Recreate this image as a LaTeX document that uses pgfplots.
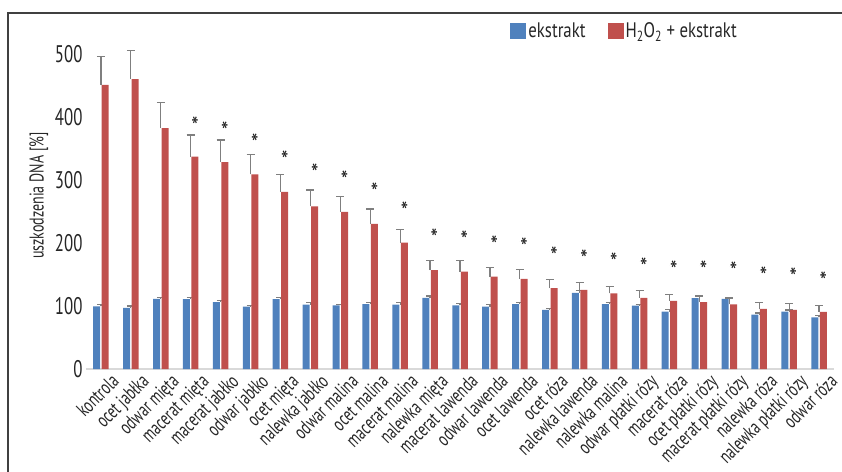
\documentclass[border=0pt]{standalone}
\usepackage{pgfplots}
\usepackage{pgfplotstable}
\pgfplotsset{compat=1.18}
\usepackage{fontspec}
\setmainfont{PT Sans}[FakeStretch=0.8]
\newfontfamily\narrowfont{PT Sans}[FakeStretch=0.7]

\definecolor{exblue}{HTML}{4F81BD}
\definecolor{exred}{HTML}{C0504D}
\definecolor{errgray}{HTML}{7F7F7F}
\definecolor{basegray}{HTML}{D9D9D9}

% x: sample index, b/be: extract alone (mean, SD), r/re: H2O2 + extract (mean, SD)
\pgfplotstableread{
x  b      be   r      re
0  99.5   2.5  451    45
1  97     3    460    46
2  111.5  2    382.5  40
3  111    2    337    34.5
4  106    3    328.5  35
5  99     2    309    31
6  111    2    281    27.5
7  102    3    258    26
8  101    2    249.5  24.5
9  103    3    230.5  23.5
10 102    3    200.5  20.5
11 113    3    157    15.5
12 101    2.5  154.5  17.5
13 99     3    146.5  14.5
14 103    2.5  143    15
15 94     2.5  128.5  13.5
16 121    3    125.5  12
17 103    2.5  120    11.5
18 100.5  2.5  113    12
19 91     3    108    10
20 112.5  2.5  106    10.5
21 111.5  2    102.5  10
22 86.5   2.5  95.5   10
23 91     2.5  94     10
24 82     3    90.5   10
}\damage

% significance marks (x, height of the asterisk)
\pgfplotstableread{
x  s
3  394
4  386
5  367
6  339
7  318
8  308
9  289
10 259
11 215
12 213
13 204
14 202
15 187
16 183
17 177
18 170
19 165
20 164
21 163
22 156
23 153
24 147
}\stars

\begin{document}
\begin{tikzpicture}[x=1pt,y=1pt]
\path[use as bounding box] (0,0) rectangle (842,471);
\draw[line width=1.6pt, black!75] (8,-2) -- (8,458) -- (845,458);
\begin{axis}[
  at={(86pt,102pt)}, anchor=south west,
  scale only axis, width=748pt, height=346.5pt,
  xmin=-0.5, xmax=24.5, ymin=0, ymax=550,
  axis x line*=bottom, axis y line*=left,
  x axis line style={draw=basegray, line width=1.6pt, -},
  y axis line style={draw=none},
  major tick length=0pt,
  /pgf/number format/assume math mode=true,
  ytick={0,100,200,300,400,500},
  yticklabel style={font=\narrowfont\fontsize{24}{24}\selectfont, text=black!85},
  ylabel={uszkodzenia DNA [\%]},
  ylabel style={font=\narrowfont\fontsize{20}{20}\selectfont, text=black!85},
  xtick={0,...,24},
  xticklabels={kontrola, ocet jabłka, odwar mięta, macerat mięta, macerat jabłko,
    odwar jabłko, ocet mięta, nalewka jabłko, odwar malina, ocet malina,
    macerat malina, nalewka mięta, macerat lawenda, odwar lawenda, ocet lawenda,
    ocet róza, nalewka lawenda, nalewka malina, odwar płatki rózy, macerat róza,
    ocet płatki rózy, macerat płatki rózy, nalewka róza, nalewka płatki rózy, odwar róza},
  xticklabel style={rotate=45, anchor=north east, font=\narrowfont\fontsize{20}{20}\selectfont,
    text=black!85, inner sep=1pt, yshift=-8pt, xshift=5pt},
  legend style={at={(0.72,0.975)}, anchor=center, draw=none, fill=none,
    font=\fontsize{21}{21}\selectfont, text=black!85, legend columns=2,
    /tikz/every even column/.append style={column sep=20pt}},
  error bars/error bar style={line width=1.2pt, errgray},
  error bars/error mark options={rotate=90, mark size=4pt, line width=1.2pt, errgray},
]
\addplot[ybar, bar width=7pt, bar shift=-4.25pt, fill=exblue, draw=none,
  legend image code/.code={\fill[exblue] (0pt,-8pt) rectangle (16pt,8pt);},
  error bars/.cd, y dir=plus, y explicit]
  table[x=x, y=b, y error=be] {\damage};
\addlegendentry{ekstrakt}
\addplot[ybar, bar width=7pt, bar shift=4.25pt, fill=exred, draw=none,
  legend image code/.code={\fill[exred] (0pt,-8pt) rectangle (16pt,8pt);},
  error bars/.cd, y dir=plus, y explicit]
  table[x=x, y=r, y error=re] {\damage};
\addlegendentry{H\textsubscript{2}O\textsubscript{2} + ekstrakt}
\addplot[only marks, mark=*, mark size=0pt, mark options={draw=none, fill=none},
  nodes near coords={*},
  every node near coord/.append style={anchor=center, xshift=4.25pt, yshift=-5pt,
    font=\fontsize{26}{26}\selectfont, text=black!90},
  forget plot]
  table[x=x, y=s] {\stars};
\end{axis}
\end{tikzpicture}
\end{document}
